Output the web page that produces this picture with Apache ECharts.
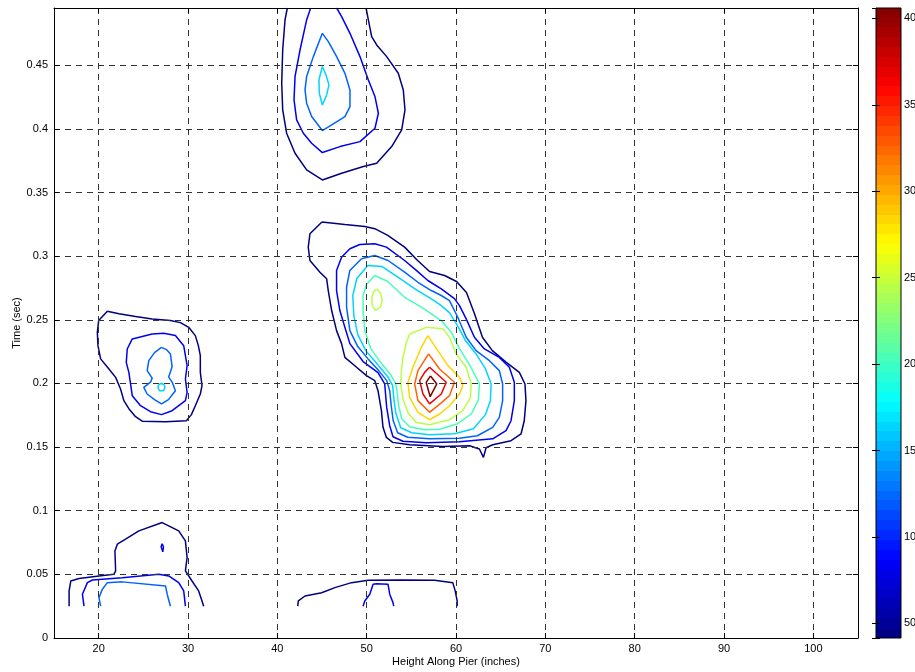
<!DOCTYPE html>
<html>
<head>
<meta charset="utf-8">
<script src="https://cdn.jsdelivr.net/npm/echarts@6/dist/echarts.min.js"></script>
<style>html,body{margin:0;padding:0;background:#fff}#c{width:915px;height:672px}</style>
</head>
<body>
<div id="c"></div>
<script>
// ---------- data ----------
const xName = 'Height Along Pier (inches)';
const yName = 'Time (sec)';
const xRange = [15, 105];
const yRange = [0, 0.495];
const cRange = [4.15, 40.6];
const levels = [4.15, 8.2, 12.25, 16.3, 20.35, 24.4, 28.45, 32.5, 36.55, 40.6];
const cbTicks = [5, 10, 15, 20, 25, 30, 35, 40];
const cbLabels = ['50', '10', '15', '20', '25', '30', '35', '40'];

// top blob
const topL1 = [[41.12,0.495],[40.86,0.4856],[40.6,0.462],[40.49,0.4359],[40.6,0.4149],[41.04,0.3966],[41.98,0.3809],[43.28,0.3678],[45.04,0.3599],[47.2,0.3652],[49.63,0.3704],[51.12,0.373],[52.8,0.3861],[53.92,0.3992],[54.29,0.4149],[54.1,0.4306],[53.54,0.4437],[52.24,0.4568],[51.12,0.466],[50.56,0.4725],[50.19,0.4856],[49.93,0.495]];
const topL2 = [[43.73,0.495],[43.28,0.4856],[42.54,0.462],[41.98,0.4411],[41.87,0.4228],[42.16,0.4071],[42.91,0.3966],[43.84,0.3887],[45.04,0.3814],[47.01,0.3861],[49.25,0.39],[50.93,0.4005],[51.31,0.4123],[50.93,0.4254],[50.19,0.4385],[49.25,0.4568],[48.13,0.4751],[47.2,0.4882],[46.64,0.495]];
const topL3 = [[45.04,0.4751],[44.03,0.4568],[43.28,0.4411],[43.1,0.4306],[43.28,0.4202],[43.84,0.4097],[45.04,0.3987],[46.08,0.4031],[47.57,0.4097],[48.13,0.4175],[48.13,0.4306],[47.57,0.4437],[46.64,0.4568],[45.71,0.4686]];
const topL4 = [[45.04,0.449],[44.66,0.4385],[44.7,0.428],[45.04,0.4188],[45.52,0.4267],[45.78,0.4346],[45.45,0.4424]];

// main blob
const mainL1 = [[44.99,0.3268],[47.56,0.3249],[49.79,0.3234],[50.91,0.3216],[52.36,0.3163],[54.25,0.3071],[55.7,0.2966],[57.04,0.288],[58.72,0.2848],[60.06,0.2801],[61.17,0.2714],[61.51,0.2651],[62.06,0.2549],[62.96,0.2363],[64.07,0.2258],[65.63,0.2166],[67.09,0.2087],[67.72,0.1996],[67.83,0.1865],[67.64,0.1707],[67.28,0.1603],[66.16,0.155],[64.11,0.1518],[63.37,0.1495],[63.07,0.1419],[62.62,0.1485],[61.51,0.1511],[58.49,0.1505],[54.81,0.1518],[52.91,0.1537],[52.21,0.1576],[51.83,0.1655],[51.65,0.1786],[51.27,0.1943],[50.91,0.2022],[49.98,0.2061],[48.87,0.2127],[47.56,0.2205],[47.19,0.2313],[46.63,0.2415],[46.08,0.2573],[45.7,0.273],[45.52,0.2822],[44.77,0.2874],[43.65,0.2966],[43.46,0.3071],[43.65,0.3176]];
const mainL2 = [[50.91,0.3098],[52.21,0.3071],[54.25,0.2966],[55.56,0.2888],[56.85,0.2809],[58.35,0.2743],[59.83,0.2667],[60.39,0.2612],[61.14,0.2507],[62.06,0.2363],[63.18,0.2271],[64.85,0.2205],[65.97,0.2127],[66.53,0.2009],[66.53,0.1865],[66.16,0.1707],[65.6,0.1629],[64.11,0.1565],[60.39,0.1542],[56.67,0.1534],[54.06,0.1546],[52.95,0.1581],[52.58,0.1668],[52.24,0.1812],[52.02,0.1996],[51.27,0.2085],[49.6,0.2172],[48.12,0.2313],[47.56,0.2441],[47.0,0.2573],[46.63,0.273],[46.63,0.2888],[47.19,0.2992],[48.12,0.3058],[49.23,0.3092]];
const mainL3 = [[49.42,0.298],[50.91,0.3005],[52.39,0.2966],[54.25,0.2874],[55.74,0.2795],[57.23,0.273],[58.35,0.2691],[59.27,0.2651],[60.2,0.252],[61.14,0.2363],[62.25,0.2258],[63.74,0.2179],[64.85,0.2101],[65.22,0.1996],[65.22,0.1865],[64.85,0.1733],[64.11,0.1655],[62.4,0.1589],[60.39,0.157],[57.04,0.1566],[54.59,0.1577],[53.47,0.1613],[52.97,0.1707],[52.75,0.1825],[52.58,0.1943],[52.25,0.2022],[51.35,0.2101],[50.13,0.2195],[49.01,0.229],[48.12,0.2415],[47.75,0.2599],[47.75,0.2756],[48.12,0.2888]];
const mainL4 = [[50.13,0.2927],[51.69,0.2919],[53.7,0.2825],[55.7,0.273],[57.38,0.2659],[58.35,0.2612],[59.27,0.2557],[60.17,0.2455],[61.06,0.2337],[62.29,0.2227],[63.29,0.2116],[63.93,0.1998],[63.85,0.1865],[63.29,0.1755],[61.95,0.1644],[59.83,0.1605],[57.04,0.1597],[55.04,0.1613],[53.81,0.1652],[53.25,0.177],[53.03,0.1888],[52.91,0.1983],[52.36,0.2053],[51.13,0.2156],[49.9,0.2258],[49.01,0.2384],[48.56,0.2533],[48.45,0.2691],[48.9,0.2825]];
const mainL5 = [[50.91,0.2848],[52.36,0.2801],[54.25,0.2677],[56.12,0.2599],[58.35,0.2494],[59.5,0.24],[60.39,0.2274],[61.51,0.2148],[62.62,0.1998],[62.51,0.1873],[61.73,0.1762],[60.17,0.1684],[58.16,0.164],[56.49,0.1637],[54.81,0.166],[53.92,0.1723],[53.58,0.1825],[53.42,0.1928],[53.25,0.1998],[52.69,0.2069],[51.58,0.2164],[50.46,0.2274],[49.79,0.2415],[49.6,0.2573],[49.6,0.2691],[49.98,0.2777]];
const mainL6a = [[54.81,0.2389],[56.67,0.2441],[58.53,0.2429],[59.27,0.2363],[60.02,0.2232],[61.14,0.2127],[61.7,0.1998],[61.62,0.1888],[60.76,0.1786],[59.27,0.1715],[57.04,0.1676],[55.56,0.1694],[54.62,0.177],[54.06,0.188],[53.81,0.1998],[53.89,0.2101],[54.06,0.2205],[54.44,0.2321]];
const mainL6b = [[51.13,0.2742],[51.58,0.2707],[51.74,0.2651],[51.58,0.2604],[51.02,0.2573],[50.63,0.2612],[50.57,0.2675],[50.8,0.2722]];
const mainL7 = [[56.85,0.2376],[57.97,0.2258],[59.09,0.214],[60.39,0.2048],[60.76,0.1983],[60.39,0.1917],[59.27,0.1825],[58.16,0.176],[57.04,0.1715],[55.74,0.1773],[54.81,0.1891],[54.62,0.2009],[55.18,0.2127],[56.12,0.2284]];
const mainL8 = [[56.93,0.2232],[58.16,0.2114],[59.83,0.2009],[59.27,0.1904],[58.38,0.1849],[57.04,0.1773],[55.74,0.1865],[55.37,0.1996],[55.74,0.2101]];
const mainL9 = [[57.04,0.2127],[58.91,0.2009],[58.35,0.1917],[57.04,0.1839],[56.3,0.1917],[55.93,0.2022],[56.49,0.2087]];
const mainL10 = [[57.15,0.2059],[57.85,0.1996],[57.11,0.1896],[56.66,0.2009]];

// left blob
const leftL1 = [[20.97,0.2567],[22.27,0.2547],[24.13,0.2526],[25.99,0.2507],[28.03,0.2494],[29.15,0.2478],[30.08,0.2441],[30.82,0.2376],[31.16,0.2297],[31.38,0.2219],[31.38,0.2087],[31.57,0.1983],[31.38,0.1917],[30.82,0.1825],[30.38,0.1755],[29.82,0.1707],[27.48,0.1699],[24.91,0.1703],[24.13,0.1739],[23.38,0.1802],[22.82,0.1865],[22.45,0.1957],[21.9,0.2048],[21.15,0.2114],[20.22,0.2193],[19.92,0.2297],[19.85,0.2402],[20.0,0.2494]];
const leftL2 = [[25.99,0.2389],[23.76,0.235],[23.2,0.2271],[23.09,0.2166],[23.38,0.2087],[23.57,0.1996],[23.76,0.1904],[24.69,0.1825],[25.8,0.1778],[27.03,0.1755],[28.22,0.1786],[29.71,0.1865],[29.9,0.193],[29.71,0.2035],[29.9,0.214],[29.52,0.2297],[28.59,0.2376],[27.29,0.2394]];
const leftL3 = [[27.03,0.2284],[26.25,0.2242],[25.61,0.2179],[25.43,0.2101],[25.99,0.2042],[25.8,0.201],[25.05,0.1969],[25.43,0.1917],[26.25,0.1873],[27.03,0.1839],[27.81,0.1873],[28.59,0.1943],[28.26,0.2006],[27.84,0.205],[28.22,0.2132],[28.03,0.2232],[27.59,0.2266]];
const leftL4 = [[27.03,0.2002],[27.36,0.1987],[27.42,0.1967],[27.25,0.1943],[27.03,0.1935],[26.81,0.1943],[26.64,0.1967],[26.69,0.1987]];

// bottom left
const blL1 = [[16.69,0.025],[16.69,0.037],[16.88,0.0448],[17.8,0.0467],[20.03,0.0488],[21.71,0.0501],[21.9,0.0527],[21.82,0.0684],[22.09,0.0737],[23.01,0.0777],[24.5,0.0842],[27.11,0.0907],[28.96,0.0842],[29.71,0.0763],[29.9,0.0632],[29.71,0.0527],[30.45,0.0448],[31.19,0.037],[31.57,0.0291],[31.75,0.025]];
const blL2 = [[18.36,0.025],[18.18,0.0344],[18.74,0.0435],[19.3,0.0456],[22.64,0.0474],[26.73,0.0501],[27.84,0.0488],[28.96,0.0435],[29.52,0.037],[29.71,0.025]];
const blL3 = [[20.22,0.025],[20.03,0.0317],[20.41,0.0383],[20.97,0.0435],[22.64,0.0441],[27.48,0.0409],[27.67,0.0344],[28.03,0.025]];
const blMark = [[27.11,0.074],[27.25,0.0716],[27.18,0.0677],[27.06,0.0677],[26.99,0.0716]];

// bottom middle
const bmL1 = [[42.28,0.025],[42.35,0.0291],[43.1,0.033],[44.96,0.0356],[46.44,0.0396],[48.31,0.0435],[50.16,0.0454],[53.89,0.0456],[57.6,0.0454],[59.64,0.0435],[59.91,0.037],[60.13,0.0291],[60.13,0.025]];
const bmL2 = [[49.6,0.025],[49.79,0.0291],[50.35,0.0344],[50.72,0.0423],[51.1,0.0427],[52.39,0.0423],[52.58,0.0344],[52.95,0.0278],[53.03,0.025]];

// contour list: [points, level index, closed]
const contours = [
  [topL1,0,false],[topL2,1,false],[topL3,2,true],[topL4,3,true],
  [mainL1,0,true],[mainL2,1,true],[mainL3,2,true],[mainL4,3,true],[mainL5,4,true],
  [mainL6a,5,true],[mainL6b,5,true],[mainL7,6,true],[mainL8,7,true],[mainL9,8,true],[mainL10,9,true],
  [leftL1,0,true],[leftL2,1,true],[leftL3,2,true],[leftL4,3,true],
  [blL1,0,false],[blL2,1,false],[blL3,2,false],[blMark,1,true],
  [bmL1,0,false],[bmL2,1,false]
];

// ---------- style helpers ----------
function jet(f) {
  const c = v => Math.max(0, Math.min(1, v));
  const r = c(Math.min(4 * f - 1.5, -4 * f + 4.5));
  const g = c(Math.min(4 * f - 0.5, -4 * f + 3.5));
  const b = c(Math.min(4 * f + 0.5, -4 * f + 2.5));
  return 'rgb(' + Math.round(r * 255) + ',' + Math.round(g * 255) + ',' + Math.round(b * 255) + ')';
}
function levelColor(i) {
  return jet((levels[i] - cRange[0]) / (cRange[1] - cRange[0]));
}
const stops = [];
const nBands = 64;
for (let i = 0; i < nBands; i++) {
  const col = jet((i + 0.5) / nBands);
  stops.push({ offset: i / nBands, color: col });
  stops.push({ offset: (i + 1) / nBands, color: col });
}

const font = '"Liberation Sans", Arial, Helvetica, sans-serif';
const lbl = { color: '#000', fontSize: 11, fontFamily: font };

const series = contours.map(([pts, lev, closed]) => ({
  type: 'line',
  xAxisIndex: 0,
  yAxisIndex: 0,
  data: closed ? pts.concat([pts[0]]) : pts,
  showSymbol: false,
  symbol: 'none',
  silent: true,
  clip: true,
  z: 3,
  lineStyle: { color: levelColor(lev), width: 1.5 }
}));

const chart = echarts.init(document.getElementById('c'), null, { renderer: 'canvas' });
chart.setOption({
  animation: false,
  backgroundColor: '#fff',
  grid: [
    { left: 54, top: 8, width: 804, height: 630, show: false, containLabel: false, outerBoundsMode: 'none' },
    { left: 876, top: 8, width: 25, height: 630, show: true, containLabel: false, outerBoundsMode: 'none',
      backgroundColor: new echarts.graphic.LinearGradient(0, 1, 0, 0, stops),
      borderColor: '#000', borderWidth: 1 }
  ],
  xAxis: [
    { gridIndex: 0, type: 'value', min: xRange[0], max: xRange[1], splitNumber: 9, minInterval: 10, maxInterval: 10,
      position: 'bottom', z: 5,
      axisLine: { show: true, onZero: false, lineStyle: { color: '#000', width: 1 } },
      axisTick: { show: true, inside: true, length: 5, lineStyle: { color: '#000' } },
      axisLabel: Object.assign({ margin: 5, showMinLabel: false, showMaxLabel: false }, lbl),
      splitLine: { show: true, lineStyle: { color: '#333', type: [6, 5], width: 1 } },
      name: xName, nameLocation: 'middle', nameGap: 18, nameMoveOverlap: false,
      nameTextStyle: { color: '#000', fontSize: 11, fontFamily: font } },
    { gridIndex: 0, type: 'value', min: xRange[0], max: xRange[1], splitNumber: 9, minInterval: 10, maxInterval: 10,
      position: 'top', z: 5,
      axisLine: { show: true, onZero: false, lineStyle: { color: '#000', width: 1 } },
      axisTick: { show: true, inside: true, length: 5, lineStyle: { color: '#000' } },
      axisLabel: { show: false }, splitLine: { show: false } },
    { gridIndex: 1, type: 'value', min: 0, max: 1, show: false }
  ],
  yAxis: [
    { gridIndex: 0, type: 'value', min: yRange[0], max: yRange[1], interval: 0.05, position: 'left', z: 5,
      axisLine: { show: true, onZero: false, lineStyle: { color: '#000', width: 1 } },
      axisTick: { show: true, inside: true, length: 5, lineStyle: { color: '#000' } },
      axisLabel: Object.assign({ margin: 6, showMaxLabel: false }, lbl),
      splitLine: { show: true, lineStyle: { color: '#333', type: [6, 5], width: 1 } },
      name: yName, nameLocation: 'middle', nameGap: 32, nameRotate: 90, nameMoveOverlap: false,
      nameTextStyle: { color: '#000', fontSize: 11, fontFamily: font } },
    { gridIndex: 0, type: 'value', min: yRange[0], max: yRange[1], interval: 0.05, position: 'right', z: 5,
      axisLine: { show: true, onZero: false, lineStyle: { color: '#000', width: 1 } },
      axisTick: { show: true, inside: true, length: 5, lineStyle: { color: '#000' } },
      axisLabel: { show: false }, splitLine: { show: false } },
    { gridIndex: 1, type: 'value', min: cRange[0], max: cRange[1], splitNumber: 8, minInterval: 5, maxInterval: 5,
      position: 'right', z: 5,
      axisLine: { show: false },
      axisTick: { show: true, inside: true, length: 4, lineStyle: { color: '#000' } },
      axisLabel: Object.assign({ margin: 3, formatter: v => {
        const k = cbTicks.findIndex(t => Math.abs(t - v) < 1e-6);
        return k >= 0 ? cbLabels[k] : '';
      } }, lbl),
      splitLine: { show: false } },
    { gridIndex: 1, type: 'value', min: cRange[0], max: cRange[1], splitNumber: 8, minInterval: 5, maxInterval: 5,
      position: 'left', z: 5,
      axisLine: { show: false },
      axisTick: { show: true, inside: true, length: 4, lineStyle: { color: '#000' } },
      axisLabel: { show: false }, splitLine: { show: false } }
  ],
  series: series
});
</script>
</body>
</html>
